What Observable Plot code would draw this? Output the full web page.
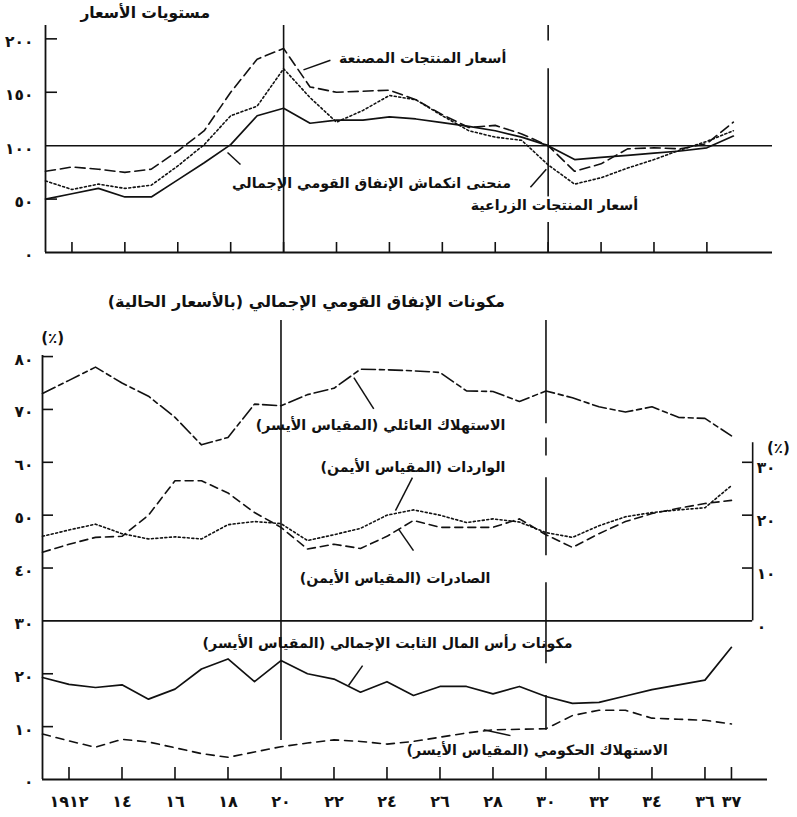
<!DOCTYPE html>
<html><head><meta charset="utf-8">
<script src="https://cdn.jsdelivr.net/npm/d3@7"></script>
<script src="https://cdn.jsdelivr.net/npm/@observablehq/plot@0.6"></script>
<style>
body{margin:0;background:#fff;}
#wrap{position:relative;width:797px;height:817px;overflow:hidden;font-family:"DejaVu Sans",sans-serif;color:#111;}
#top,#bot{position:absolute;left:0;}
#top{top:0px}#bot{top:280px}
.t{position:absolute;font-weight:bold;direction:rtl;white-space:nowrap;line-height:1;}
</style></head><body>
<div id="wrap">
<div id="top"></div><div id="bot"></div>
<div class="t" style="right:587px;top:6px;font-size:15.5px">مستويات الأسعار</div>
<div class="t" style="right:292px;top:294px;font-size:16px">مكونات الإنفاق القومي الإجمالي (بالأسعار الحالية)</div>
</div>
<script>
// ---------- data ----------
const years = [1911,1912,1913,1914,1915,1916,1917,1918,1919,1920,1921,1922,1923,1924,1925,1926,1927,1928,1929,1930,1931,1932,1933,1934,1935,1936,1937];

// top panel: price levels
const gnpDeflator   = [50,55,60,52,52,68,84,101,128,135,121,124,124,127,125,121.5,118,114,108,100,87,89,91,93,95,98,109];
const manufPrices   = [76,80,78,75,78,95,114,150,181,191,155,150,151,152,143,129,117,119,111,100,76,83,97,98,97,102,122];
const agriPrices    = [67,59,64,60,63,81,101,128,137,172,145,122,133,147,143,128,114,108,105,82,64,70,79,87,96,104,114];

// bottom panel: components of GNE (%)
const household     = [73,75.5,78,75,72.5,68.5,63.3,64.7,71,70.7,72.8,74,77.6,77.5,77.3,77,73.5,73.4,71.5,73.5,72.2,70.5,69.5,70.5,68.5,68.3,65];
const imports       = [16,17.2,18.3,16.5,15.5,15.9,15.5,18.2,18.8,18.4,15.2,16.3,17.5,20,21,20,18.6,19.3,18.7,16.7,15.8,18,19.7,20.5,21,21.4,25.6];   // right scale
const exports_      = [13,14.5,15.8,16,20,26.5,26.5,24.2,20.5,17.7,13.6,14.5,13.7,16,19,17.7,17.7,17.7,19.3,16.3,13.9,16.5,18.8,20.3,21.3,22.2,22.8]; // right scale
const capital       = [19.3,18,17.4,17.9,15.2,17.1,20.9,22.8,18.5,22.5,20,19,16.5,18.5,15.9,17.6,17.6,16.2,17.6,15.7,14.4,14.6,15.8,17,17.9,18.8,25];
const government    = [8.6,7.3,6.1,7.6,7.1,6,4.9,4.2,5.2,6.2,6.9,7.5,7.2,6.7,7.2,8,8.8,9.4,9.5,9.6,12.1,13.1,13.1,11.6,11.4,11.2,10.5];

// ticks
const topYTicks = [200,150,100,50,0];
const topXTicks = [1912,1914,1916,1918,1920,1922,1924,1926,1928,1930,1932,1934,1936];
const botYTicks = [80,70,60,50,40,30,20,10,0];
const rightTicks = [30,20,10,0];
const botXTicks = [1912,1914,1916,1918,1920,1922,1924,1926,1928,1930,1932,1934,1936,1937];

// labels (Arabic)
const lblManuf = "أسعار المنتجات المصنعة";
const lblDefl  = "منحنى انكماش الإنفاق القومي الإجمالي";
const lblAgri  = "أسعار المنتجات الزراعية";
const lblHouse = "الاستهلاك العائلي (المقياس الأيسر)";
const lblImp   = "الواردات (المقياس الأيمن)";
const lblExp   = "الصادرات (المقياس الأيمن)";
const lblCap   = "مكونات رأس المال الثابت الإجمالي (المقياس الأيسر)";
const lblGov   = "الاستهلاك الحكومي (المقياس الأيسر)";

// ---------- helpers ----------
const digits = "٠١٢٣٤٥٦٧٨٩";
const ar = n => String(n).replace(/\d/g, d => digits[+d]);
const RL = s => "\u202B" + s + "\u202C";
const rows = vals => years.map((year, i) => ({year, v: vals[i]}));
const RIGHT_BASE = 30; // right axis 0 aligns with left 30
const FONT = '"DejaVu Sans", sans-serif';
const INK = "#111";
const LBL = 14.2, AX = 15.5;

// ---------- top panel ----------
const topXDom = [1911, 1938.48], topYDom = [0, 212.5];
const topW = 797, topH = 270, tML = 45, tMR = 25, tMT = 25, tMB = 18;
const tFrameW = topW - tML - tMR, tFrameH = topH - tMT - tMB;

const topLabels = [
  {x: 1928.42, y: 181.6, text: RL(lblManuf)},
  {x: 1928.6,  y: 64.6,  text: RL(lblDefl)}
];
const topLabelsHalo = [{x: 1933.4, y: 44, text: RL(lblAgri)}];
const topLeaders = [
  {x1: 1921.77, y1: 180, x2: 1920.75, y2: 171},
  {x1: 1917.88, y1: 93.6, x2: 1918.37, y2: 82.4},
  {x1: 1929.33, y1: 61, x2: 1929.93, y2: 78}
];
const topVerticals = [
  {x: 1920, y1: 0, y2: 212.5},
  {x: 1930, y1: 0, y2: 28}, {x: 1930, y1: 51, y2: 172}, {x: 1930, y1: 198, y2: 212.5}
];

const topPlot = Plot.plot({
  width: topW, height: topH,
  marginLeft: tML, marginRight: tMR, marginTop: tMT, marginBottom: tMB,
  x: {domain: topXDom, axis: null},
  y: {domain: topYDom, axis: null},
  style: {fontFamily: FONT, fontSize: "14px", fontWeight: "bold", overflow: "visible", background: "transparent", color: INK},
  marks: [
    Plot.ruleX([topXDom[0]], {y1: topYDom[0], y2: topYDom[1], stroke: INK, strokeWidth: 1.8}),
    Plot.ruleY([0], {x1: topXDom[0], x2: topXDom[1], stroke: INK, strokeWidth: 1.8}),
    Plot.ruleY([100], {x1: topXDom[0], x2: topXDom[1], stroke: INK, strokeWidth: 1.5}),
    Plot.ruleX(topVerticals, {x: "x", y1: "y1", y2: "y2", stroke: INK, strokeWidth: 1.6}),
    Plot.tickY(topYTicks.filter(d => d > 0 && d !== 100), {y: d => d, stroke: INK, strokeWidth: 1.6, insetRight: tFrameW - 12}),
    Plot.tickX(topXTicks, {x: d => d, stroke: INK, strokeWidth: 1.6, insetTop: tFrameH - 10}),
    Plot.axisY(topYTicks, {tickSize: 0, tickPadding: 12, tickFormat: ar, fontSize: AX, fontWeight: "bold", fill: INK, dy: 3}),
    Plot.line(rows(gnpDeflator), {x: "year", y: "v", stroke: INK, strokeWidth: 1.7}),
    Plot.line(rows(manufPrices), {x: "year", y: "v", stroke: INK, strokeWidth: 1.6, strokeDasharray: "10,5"}),
    Plot.line(rows(agriPrices), {x: "year", y: "v", stroke: INK, strokeWidth: 1.6, strokeDasharray: "2,2.5"}),
    Plot.link(topLeaders, {x1: "x1", y1: "y1", x2: "x2", y2: "y2", stroke: INK, strokeWidth: 1.5}),
    Plot.text(topLabels, {x: "x", y: "y", text: "text", textAnchor: "end", fontSize: LBL, fontWeight: "bold", fill: INK}),
    Plot.text(topLabelsHalo, {x: "x", y: "y", text: "text", textAnchor: "end", fontSize: LBL, fontWeight: "bold", fill: INK, stroke: "white", strokeWidth: 5})
  ]
});
document.getElementById("top").appendChild(topPlot);

// ---------- bottom panel ----------
const botXDom = [1911, 1938.36], botYDom = [0, 87.2];
const botW = 797, botH = 537, bML = 42, bMR = 30, bMT = 38, bMB = 38;
const bFrameW = botW - bML - bMR, bFrameH = botH - bMT - bMB;
const rightAxisYear = 1937.8;

const botLabels = [
  {x: 1928.47, y: 66.9, text: RL(lblHouse)},
  {x: 1928.47, y: 59.0, text: RL(lblImp)},
  {x: 1927.9,  y: 38.0, text: RL(lblExp)},
  {x: 1931.0,  y: 25.7, text: RL(lblCap)},
  {x: 1934.6,  y: 5.5,  text: RL(lblGov)}
];
const botLeaders = [
  {x1: 1923.5, y1: 70.1, x2: 1922.75, y2: 76.0},
  {x1: 1924.96, y1: 57.1, x2: 1924.32, y2: 50.85},
  {x1: 1925.0, y1: 43.3, x2: 1924.43, y2: 47.4},
  {x1: 1923.08, y1: 21.55, x2: 1922.55, y2: 17.77},
  {x1: 1927.65, y1: 9.4, x2: 1928.66, y2: 8.3}
];
const botVerticals = [
  {x: 1920, y1: 7.4, y2: 86.8},
  {x: 1930, y1: 9.3, y2: 15.9}, {x: 1930, y1: 21.9, y2: 37.2}, {x: 1930, y1: 42.3, y2: 57.1},
  {x: 1930, y1: 61.2, y2: 64.6}, {x: 1930, y1: 67.3, y2: 86.8}
];
const pctLabels = [
  {x: 1911.38, y: 83.55, text: "(٪)"},
  {x: 1938.77, y: 62.6, text: "(٪)"}
];

const botPlot = Plot.plot({
  width: botW, height: botH,
  marginLeft: bML, marginRight: bMR, marginTop: bMT, marginBottom: bMB,
  x: {domain: botXDom, axis: null},
  y: {domain: botYDom, axis: null},
  style: {fontFamily: FONT, fontSize: "14px", fontWeight: "bold", overflow: "visible", background: "transparent", color: INK},
  marks: [
    Plot.ruleX([botXDom[0]], {y1: 0, y2: 80.2, stroke: INK, strokeWidth: 1.8}),
    Plot.ruleY([0], {x1: botXDom[0], x2: botXDom[1], stroke: INK, strokeWidth: 1.8}),
    Plot.ruleY([RIGHT_BASE], {x1: botXDom[0], x2: rightAxisYear, stroke: INK, strokeWidth: 1.8}),
    Plot.ruleX([rightAxisYear], {y1: RIGHT_BASE, y2: RIGHT_BASE + 33.7, stroke: INK, strokeWidth: 1.6}),
    Plot.ruleX(botVerticals, {x: "x", y1: "y1", y2: "y2", stroke: INK, strokeWidth: 1.6}),
    Plot.tickY(botYTicks.filter(d => d > 0 && d !== 30), {y: d => d, stroke: INK, strokeWidth: 1.6, insetRight: bFrameW - 11}),
    Plot.tickY(rightTicks.filter(d => d > 0), {y: d => RIGHT_BASE + d, stroke: INK, strokeWidth: 1.6, insetLeft: bFrameW - 25, insetRight: 15}),
    Plot.tickX(botXTicks, {x: d => d, stroke: INK, strokeWidth: 1.6, insetTop: bFrameH - 12}),
    Plot.axisY(botYTicks, {tickSize: 0, tickPadding: 9, tickFormat: ar, fontSize: AX, fontWeight: "bold", fill: INK, dy: 3}),
    Plot.text(rightTicks, {x: rightAxisYear, y: d => RIGHT_BASE + d, text: d => ar(d), textAnchor: "start", dx: 4, dy: 6, fontSize: AX, fontWeight: "bold", fill: INK}),
    Plot.axisX(botXTicks, {anchor: "bottom", tickSize: 0, tickPadding: 16, tickFormat: d => d === 1912 ? ar(d) : ar(d - 1900), fontSize: 16, fontWeight: "bold", fill: INK}),
    Plot.line(rows(household), {x: "year", y: "v", stroke: INK, strokeWidth: 1.6, strokeDasharray: "14,4,5,4"}),
    Plot.line(rows(imports), {x: "year", y: d => RIGHT_BASE + d.v, stroke: INK, strokeWidth: 1.6, strokeDasharray: "2,2.5"}),
    Plot.line(rows(exports_), {x: "year", y: d => RIGHT_BASE + d.v, stroke: INK, strokeWidth: 1.6, strokeDasharray: "8,5"}),
    Plot.line(rows(capital), {x: "year", y: "v", stroke: INK, strokeWidth: 1.7}),
    Plot.line(rows(government), {x: "year", y: "v", stroke: INK, strokeWidth: 1.6, strokeDasharray: "8,6"}),
    Plot.link(botLeaders, {x1: "x1", y1: "y1", x2: "x2", y2: "y2", stroke: INK, strokeWidth: 1.5}),
    Plot.text(botLabels, {x: "x", y: "y", text: "text", textAnchor: "end", fontSize: LBL, fontWeight: "bold", fill: INK}),
    Plot.text(pctLabels, {x: "x", y: "y", text: "text", fontSize: 15, fontWeight: "bold", fill: INK})
  ]
});
document.getElementById("bot").appendChild(botPlot);
</script>
</body></html>
